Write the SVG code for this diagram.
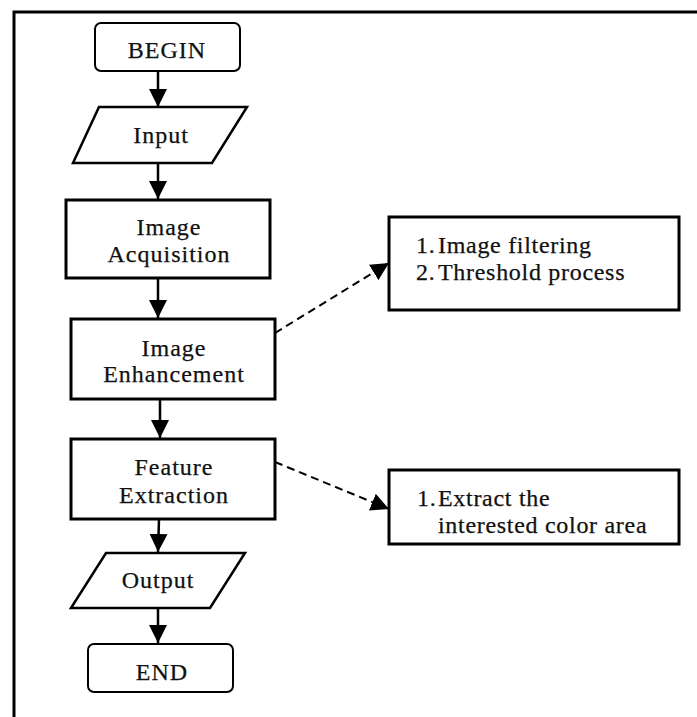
<svg xmlns="http://www.w3.org/2000/svg" width="697" height="717" viewBox="0 0 697 717">
  <style>
    .box { fill: #fff; stroke: #000; stroke-width: 3; }
    .term { fill: #fff; stroke: #000; stroke-width: 2; }
    .io { fill: #fff; stroke: #000; stroke-width: 2.5; stroke-linejoin: miter; }
    .lbl { font-family: "Liberation Serif", "Times New Roman", serif; font-size: 24px; fill: #111; stroke: #111; stroke-width: 0.25; text-anchor: middle; letter-spacing: 1px; }
    .note { font-family: "Liberation Serif", "Times New Roman", serif; font-size: 24px; fill: #111; stroke: #111; stroke-width: 0.25; letter-spacing: 0.7px; }
    .flow { stroke: #000; stroke-width: 2.5; fill: none; }
    .dash { stroke: #000; stroke-width: 2; fill: none; stroke-dasharray: 8 5; }
    .frame { stroke: #000; stroke-width: 3; fill: none; }
  </style>
  <defs>
    <marker id="arrow" viewBox="0 0 10 10" refX="10" refY="5" markerUnits="userSpaceOnUse" markerWidth="18" markerHeight="19" orient="auto">
      <path d="M0,0 L10,5 L0,10 Z" fill="#000"/>
    </marker>
  </defs>

  <rect width="697" height="717" fill="#fff"/>
  <!-- outer frame: top and left edges -->
  <path class="frame" d="M697,12 L14,12 L14,717"/>

  <!-- connectors -->
  <g id="connectors">
    <line class="flow" x1="158" y1="71" x2="158" y2="107" marker-end="url(#arrow)"/>
    <line class="flow" x1="158" y1="163" x2="158" y2="199" marker-end="url(#arrow)"/>
    <line class="flow" x1="158" y1="278" x2="158" y2="318" marker-end="url(#arrow)"/>
    <line class="flow" x1="160" y1="399" x2="160" y2="438" marker-end="url(#arrow)"/>
    <line class="flow" x1="159" y1="519" x2="158" y2="552" marker-end="url(#arrow)"/>
    <line class="flow" x1="158" y1="608" x2="158" y2="643" marker-end="url(#arrow)"/>
    <line class="dash" x1="275" y1="333" x2="389" y2="263" marker-end="url(#arrow)"/>
    <line class="dash" x1="275" y1="462" x2="389" y2="509" marker-end="url(#arrow)"/>
  </g>

  <g id="begin">
    <rect class="term" x="95" y="23" width="145" height="48" rx="6"/>
    <text class="lbl" x="167" y="58">BEGIN</text>
  </g>

  <g id="input">
    <polygon class="io" points="99,107 247,107 212,163 73,163"/>
    <text class="lbl" x="161" y="143">Input</text>
  </g>

  <g id="image-acquisition">
    <rect class="box" x="66" y="200" width="204" height="78"/>
    <text class="lbl" x="169" y="235">Image</text>
    <text class="lbl" x="169" y="262">Acquisition</text>
  </g>

  <g id="image-enhancement">
    <rect class="box" x="71" y="319" width="204" height="80"/>
    <text class="lbl" x="174" y="356">Image</text>
    <text class="lbl" x="174" y="382">Enhancement</text>
  </g>

  <g id="feature-extraction">
    <rect class="box" x="71" y="439" width="204" height="80"/>
    <text class="lbl" x="174" y="475">Feature</text>
    <text class="lbl" x="174" y="503">Extraction</text>
  </g>

  <g id="output">
    <polygon class="io" points="106,553 245,553 210,608 71,608"/>
    <text class="lbl" x="158" y="588">Output</text>
  </g>

  <g id="end">
    <rect class="term" x="88" y="644" width="145" height="48" rx="6"/>
    <text class="lbl" x="162" y="680">END</text>
  </g>

  <g id="enhancement-steps">
    <rect class="box" x="389" y="217" width="290" height="93"/>
    <text class="note" x="416" y="253">1.</text>
    <text class="note" x="438" y="253">Image filtering</text>
    <text class="note" x="416" y="280">2.</text>
    <text class="note" x="438" y="280">Threshold process</text>
  </g>

  <g id="extraction-steps">
    <rect class="box" x="389" y="470" width="290" height="74"/>
    <text class="note" x="417" y="506">1.</text>
    <text class="note" x="438" y="506">Extract the</text>
    <text class="note" x="438" y="533">interested color area</text>
  </g>
</svg>
